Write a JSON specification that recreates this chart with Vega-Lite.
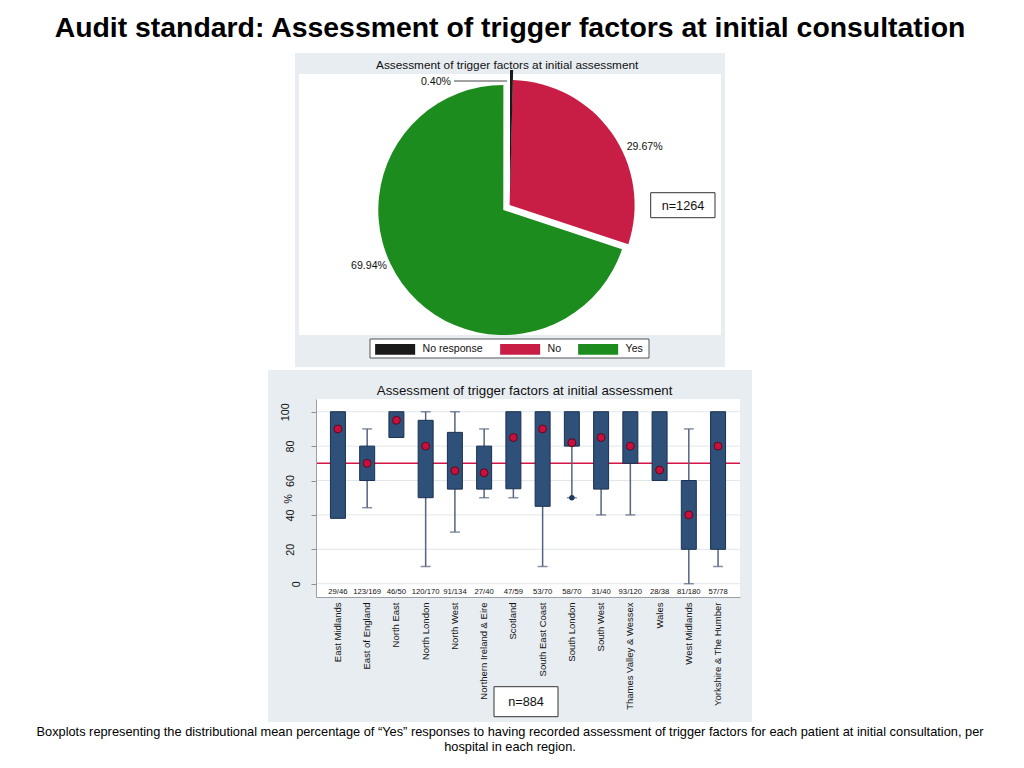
{
  "$schema": "https://vega.github.io/schema/vega-lite/v6.json",
  "padding": 0,
  "background": "white",
  "spacing": 3,
  "center": true,
  "config": {
    "view": {"stroke": null},
    "font": "Liberation Sans"
  },
  "datasets": {
    "pie": [
      {"category": "No response", "share": 0.0040},
      {"category": "No", "share": 0.2967},
      {"category": "Yes", "share": 0.6994}
    ],
    "regions": [
      {"region": "East Midlands", "count": "29/46", "q1": 38, "q3": 100, "lo": 38, "hi": 100, "mean": 90},
      {"region": "East of England", "count": "123/169", "q1": 60, "q3": 80, "lo": 44.2, "hi": 90, "mean": 70},
      {"region": "North East", "count": "46/50", "q1": 85, "q3": 100, "lo": 85, "hi": 100, "mean": 95},
      {"region": "North London", "count": "120/170", "q1": 50, "q3": 95, "lo": 10, "hi": 100, "mean": 80},
      {"region": "North West", "count": "91/134", "q1": 55, "q3": 88, "lo": 30, "hi": 100, "mean": 65.7},
      {"region": "Northern Ireland & Eire", "count": "27/40", "q1": 55, "q3": 80, "lo": 50, "hi": 90, "mean": 64.5},
      {"region": "Scotland", "count": "47/59", "q1": 55.2, "q3": 100, "lo": 50, "hi": 100, "mean": 85},
      {"region": "South East Coast", "count": "53/70", "q1": 45, "q3": 100, "lo": 10, "hi": 100, "mean": 90},
      {"region": "South London", "count": "58/70", "q1": 80, "q3": 100, "lo": 50, "hi": 100, "mean": 82},
      {"region": "South West", "count": "31/40", "q1": 55, "q3": 100, "lo": 40, "hi": 100, "mean": 85},
      {"region": "Thames Valley & Wessex", "count": "93/120", "q1": 70, "q3": 100, "lo": 40, "hi": 100, "mean": 80},
      {"region": "Wales", "count": "28/38", "q1": 60, "q3": 100, "lo": 60, "hi": 100, "mean": 66.1},
      {"region": "West Midlands", "count": "81/180", "q1": 20, "q3": 60, "lo": 0, "hi": 90, "mean": 40},
      {"region": "Yorkshire & The Humber", "count": "57/78", "q1": 20, "q3": 100, "lo": 10, "hi": 100, "mean": 80}
    ],
    "outliers": [{"region": "South London", "value": 50}]
  },
  "vconcat": [
    {
      "width": 1020,
      "height": 50,
      "data": {"values": [{"t": "Audit standard: Assessment of trigger factors at initial consultation"}]},
      "mark": {"type": "text", "font": "Liberation Sans", "fontWeight": "bold", "fontSize": 28.4, "baseline": "alphabetic", "dy": 12, "color": "#000000"},
      "encoding": {"text": {"field": "t", "type": "nominal"}}
    },
    {
      "width": 430,
      "height": 314,
      "view": {"fill": "#e8edf1", "stroke": null},
      "data": {"name": "pie"},
      "layer": [
        {
          "data": {"values": [{}]},
          "mark": {"type": "rect", "fill": "white"},
          "encoding": {"x": {"value": 4}, "x2": {"value": 426}, "y": {"value": 21}, "y2": {"value": 282}}
        },
        {
          "data": {"values": [{"t": "Assessment of trigger factors at initial assessment"}]},
          "mark": {"type": "text", "fontSize": 11.8, "color": "#111111", "baseline": "middle", "align": "center", "dx": -2.8, "dy": -145},
          "encoding": {"text": {"field": "t", "type": "nominal"}}
        },
        {
          "data": {"values": [{}]},
          "mark": {"type": "rect", "fill": "white", "stroke": "#555555", "strokeWidth": 1},
          "encoding": {"x": {"value": 75}, "x2": {"value": 354}, "y": {"value": 286}, "y2": {"value": 305}}
        },
        {
          "transform": [
            {"stack": "share", "groupby": [], "sort": [{"field": "share", "order": "ascending"}], "as": ["p0", "p1"]},
            {"filter": "datum.category === 'Yes'"}
          ],
          "mark": {"type": "arc", "outerRadius": 125, "xOffset": -6.7, "yOffset": 0},
          "encoding": {
            "theta": {"field": "p0", "type": "quantitative", "scale": {"domain": [0, 1], "range": [0, 6.283185]}},
            "theta2": {"field": "p1"},
            "color": {"field": "category", "type": "nominal", "scale": {"domain": ["No response", "No", "Yes"], "range": ["#1a1a1a", "#c81e45", "#1c8c1e"]},
              "legend": {"title": null, "orient": "none", "legendX": 389.65, "legendY": 343.35, "direction": "horizontal", "symbolType": "M-3.74,-1H3.74V1H-3.74Z", "symbolSize": 114.5, "symbolStrokeWidth": 0, "symbolOpacity": 1, "labelFontSize": 10.6, "labelFont": "Liberation Sans", "labelColor": "#111111", "labelOffset": 21.95, "columnPadding": 16, "padding": 0, "fillColor": null, "strokeColor": null}}
          }
        },
        {
          "transform": [
            {"stack": "share", "groupby": [], "sort": [{"field": "share", "order": "ascending"}], "as": ["p0", "p1"]},
            {"filter": "datum.category === 'No'"}
          ],
          "mark": {"type": "arc", "outerRadius": 125, "xOffset": -0.4, "yOffset": -5},
          "encoding": {
            "theta": {"field": "p0", "type": "quantitative"},
            "theta2": {"field": "p1"},
            "color": {"field": "category", "type": "nominal"}
          }
        },
        {
          "transform": [
            {"stack": "share", "groupby": [], "sort": [{"field": "share", "order": "ascending"}], "as": ["p0", "p1"]},
            {"filter": "datum.category === 'No response'"}
          ],
          "mark": {"type": "arc", "outerRadius": 125, "xOffset": 0, "yOffset": -15},
          "encoding": {
            "theta": {"field": "p0", "type": "quantitative"},
            "theta2": {"field": "p1"},
            "color": {"field": "category", "type": "nominal"}
          }
        },
        {
          "data": {"values": [{}]},
          "mark": {"type": "rule", "color": "#444444", "strokeWidth": 1},
          "encoding": {"x": {"value": 159}, "x2": {"value": 212}, "y": {"value": 28}}
        },
        {
          "mark": {"type": "text", "radius": 100, "dx": -75.26, "dy": -28.3, "fontSize": 10.6, "color": "#111111", "baseline": "middle"},
          "encoding": {
            "theta": {"field": "share", "type": "quantitative", "stack": true},
            "order": {"field": "share", "sort": "ascending"},
            "text": {"condition": {"test": "datum.category === 'No response'", "field": "share", "type": "quantitative", "format": ".2%"}, "value": ""}
          }
        },
        {
          "mark": {"type": "text", "radius": 100, "dx": 52.93, "dy": -5.73, "fontSize": 10.6, "color": "#111111", "baseline": "middle"},
          "encoding": {
            "theta": {"field": "share", "type": "quantitative", "stack": true},
            "order": {"field": "share", "sort": "ascending"},
            "text": {"condition": {"test": "datum.category === 'No'", "field": "share", "type": "quantitative", "format": ".2%"}, "value": ""}
          }
        },
        {
          "mark": {"type": "text", "radius": 100, "dx": -59.97, "dy": -2.9, "fontSize": 10.6, "color": "#111111", "baseline": "middle"},
          "encoding": {
            "theta": {"field": "share", "type": "quantitative", "stack": true},
            "order": {"field": "share", "sort": "ascending"},
            "text": {"condition": {"test": "datum.category === 'Yes'", "field": "share", "type": "quantitative", "format": ".2%"}, "value": ""}
          }
        },
        {
          "data": {"values": [{"t": "n=1264"}]},
          "layer": [
            {"mark": {"type": "rect", "fill": "white", "stroke": "#333333", "strokeWidth": 1},
             "encoding": {"x": {"value": 355.7}, "x2": {"value": 420}, "y": {"value": 139.7}, "y2": {"value": 164.7}}},
            {"mark": {"type": "text", "fontSize": 12.7, "color": "#111111", "baseline": "middle", "align": "center"},
             "encoding": {"x": {"value": 388}, "y": {"value": 152.5}, "text": {"field": "t", "type": "nominal"}}}
          ]
        }
      ]
    },
    {
      "width": 484,
      "height": 352,
      "view": {"fill": "#e8edf1", "stroke": null},
      "data": {"name": "regions"},
      "layer": [
        {
          "data": {"values": [{}]},
          "mark": {"type": "rect", "fill": "white"},
          "encoding": {"x": {"value": 48}, "x2": {"value": 472}, "y": {"value": 29}, "y2": {"value": 227}}
        },
        {
          "data": {"values": [{"t": "Assessment of trigger factors at initial assessment"}]},
          "mark": {"type": "text", "fontSize": 13.3, "color": "#111111", "baseline": "middle", "align": "center", "dx": 14.6, "dy": -155.3},
          "encoding": {"text": {"field": "t", "type": "nominal"}}
        },
        {
          "data": {"values": [{"v": 0}, {"v": 20}, {"v": 40}, {"v": 60}, {"v": 80}, {"v": 100}]},
          "mark": {"type": "rule", "color": "#e2e7ec", "strokeWidth": 1},
          "encoding": {
            "x": {"value": 48},
            "x2": {"value": 472},
            "y": {"field": "v", "type": "quantitative",
              "scale": {"domain": [-7.73, 107.4], "range": [227, 29], "nice": false, "zero": false},
              "axis": {"title": "%", "values": [0, 20, 40, 60, 80, 100], "offset": -48, "grid": false, "zindex": 1,
                "domainColor": "#9aa0a6", "tickColor": "#8a8f96", "tickSize": 5,
                "labelAngle": 270, "labelAlign": "center",
                "labelBaseline": {"condition": [{"test": "datum.value == 100", "value": "bottom"}, {"test": "datum.value == 0", "value": "top"}], "value": "middle"},
                "labelPadding": 21, "labelFontSize": 10.8, "labelColor": "#111111", "labelOverlap": false, "labelFlush": false,
                "titleAngle": 270, "titleX": -28, "titleY": 128.5, "titleAlign": "center", "titleBaseline": "middle", "titleFontSize": 10.8, "titleFontWeight": "normal", "titleColor": "#111111"}}
          }
        },
        {
          "data": {"values": [{"target": 70}]},
          "mark": {"type": "rule", "color": "#d41446", "strokeWidth": 1.5},
          "encoding": {
            "x": {"value": 48},
            "x2": {"value": 472},
            "y": {"field": "target", "type": "quantitative"}
          }
        },
        {
          "mark": {"type": "rule", "color": "#56627e", "strokeWidth": 1.5},
          "encoding": {
            "x": {"field": "region", "type": "nominal", "sort": null,
              "scale": {"domain": ["East Midlands", "East of England", "North East", "North London", "North West", "Northern Ireland & Eire", "Scotland", "South East Coast", "South London", "South West", "Thames Valley & Wessex", "Wales", "West Midlands", "Yorkshire & The Humber"], "range": [48, 472], "paddingInner": 0, "paddingOuter": 0.25},
              "axis": {"title": null, "orient": "bottom", "offset": -125, "ticks": false, "domain": true, "domainColor": "#9aa0a6", "grid": false, "zindex": 1,
                "labelAngle": 270, "labelAlign": "right", "labelBaseline": "middle", "labelPadding": 5, "labelFontSize": 9.5, "labelColor": "#111111", "labelLimit": 300, "labelOverlap": false}},
            "y": {"field": "lo", "type": "quantitative"},
            "y2": {"field": "hi"}
          }
        },
        {
          "transform": [{"filter": "datum.hi > datum.q3"}],
          "mark": {"type": "tick", "size": 10, "thickness": 1.5, "color": "#56627e"},
          "encoding": {
            "x": {"field": "region", "type": "nominal"},
            "y": {"field": "hi", "type": "quantitative"}
          }
        },
        {
          "transform": [{"filter": "datum.lo < datum.q1"}],
          "mark": {"type": "tick", "size": 10, "thickness": 1.5, "color": "#56627e"},
          "encoding": {
            "x": {"field": "region", "type": "nominal"},
            "y": {"field": "lo", "type": "quantitative"}
          }
        },
        {
          "mark": {"type": "bar", "width": 15, "fill": "#2e5079", "stroke": "#1b3151", "strokeWidth": 1},
          "encoding": {
            "x": {"field": "region", "type": "nominal"},
            "y": {"field": "q1", "type": "quantitative"},
            "y2": {"field": "q3"}
          }
        },
        {
          "data": {"name": "outliers"},
          "mark": {"type": "point", "shape": "circle", "filled": true, "size": 30, "color": "#1f3a5f", "opacity": 1},
          "encoding": {
            "x": {"field": "region", "type": "nominal"},
            "y": {"field": "value", "type": "quantitative"}
          }
        },
        {
          "mark": {"type": "point", "shape": "circle", "filled": true, "size": 62, "fill": "#c8103e", "stroke": "#5c0a1c", "strokeWidth": 1, "opacity": 1},
          "encoding": {
            "x": {"field": "region", "type": "nominal"},
            "y": {"field": "mean", "type": "quantitative"}
          }
        },
        {
          "mark": {"type": "text", "fontSize": 7.7, "baseline": "middle", "align": "center", "color": "#111111"},
          "encoding": {
            "x": {"field": "region", "type": "nominal"},
            "y": {"datum": -5.1, "type": "quantitative"},
            "text": {"field": "count", "type": "nominal"}
          }
        },
        {
          "data": {"values": [{"t": "n=884"}]},
          "layer": [
            {"mark": {"type": "rect", "fill": "white", "stroke": "#333333", "strokeWidth": 1},
             "encoding": {"x": {"value": 226}, "x2": {"value": 290}, "y": {"value": 316.7}, "y2": {"value": 346.7}}},
            {"mark": {"type": "text", "fontSize": 12.7, "color": "#111111", "baseline": "middle", "align": "center"},
             "encoding": {"x": {"value": 258}, "y": {"value": 331.5}, "text": {"field": "t", "type": "nominal"}}}
          ]
        }
      ]
    },
    {
      "width": 1020,
      "height": 43,
      "data": {"values": [{"t": ["Boxplots representing the distributional mean percentage of “Yes” responses to having recorded assessment of trigger factors for each patient at initial consultation, per", "hospital in each region."]}]},
      "mark": {"type": "text", "fontSize": 12.8, "baseline": "alphabetic", "lineHeight": 15.5, "dy": -11, "color": "#000000"},
      "encoding": {"text": {"field": "t", "type": "nominal"}}
    }
  ]
}
